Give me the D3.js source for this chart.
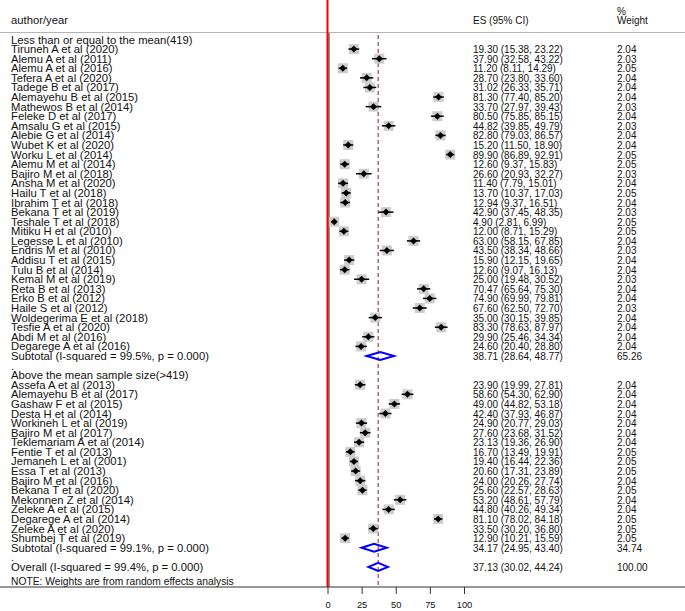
<!DOCTYPE html>
<html>
<head>
<meta charset="utf-8">
<script src="https://cdn.jsdelivr.net/npm/d3@7"></script>
<style>
  body { margin: 0; background: #fff; }
  text { font-family: "Liberation Sans", Arial, sans-serif; fill: #111; }
</style>
</head>
<body>
<svg id="forest" width="685" height="611"></svg>
<script>
// studies, sample size <= mean (419)
var studies1 = ["Tiruneh A et al (2020)", "Alemu A et al (2011)", "Alemu A et al (2016)", "Tefera A et al (2020)",
  "Tadege B et al (2017)", "Alemayehu B et al (2015)", "Mathewos B et al (2014)", "Feleke D et al (2017)",
  "Amsalu G et al (2015)", "Alebie G et al (2014)", "Wubet K et al (2020)", "Worku L et al (2014)",
  "Alemu M et al (2014)", "Bajiro M et al (2018)", "Ansha M et al (2020)", "Hailu T et al (2018)",
  "Ibrahim T et al (2018)", "Bekana T et al (2019)", "Teshale T et al (2018)", "Mitiku H et al (2010)",
  "Legesse L et al (2010)", "Endris M et al (2010)", "Addisu T et al (2015)", "Tulu B et al (2014)",
  "Kemal M et al (2019)", "Reta B et al (2013)", "Erko B et al (2012)", "Haile S et al (2012)",
  "Woldegerima E et al (2018)", "Tesfie A et al (2020)", "Abdi M et al (2016)", "Degarege A et al (2016)"];
var es1 = [19.30, 37.90, 11.20, 28.70, 31.02, 81.30, 33.70, 80.50, 44.82, 82.80, 15.20, 89.90,
  12.60, 26.60, 11.40, 13.70, 12.94, 42.90, 4.90, 12.00, 63.00, 43.50, 15.90, 12.60,
  25.00, 70.47, 74.90, 67.60, 35.00, 83.30, 29.90, 24.60];
var lo1 = [15.38, 32.58, 8.11, 23.80, 26.33, 77.40, 27.97, 75.85, 39.85, 79.03, 11.50, 86.89,
  9.37, 20.93, 7.79, 10.37, 9.37, 37.45, 2.81, 8.71, 58.15, 38.34, 12.15, 9.07,
  19.48, 65.64, 69.99, 62.50, 30.15, 78.63, 25.46, 20.40];
var hi1 = [23.22, 43.22, 14.29, 33.60, 35.71, 85.20, 39.43, 85.15, 49.79, 86.57, 18.90, 92.91,
  15.83, 32.27, 15.01, 17.03, 16.51, 48.35, 6.99, 15.29, 67.85, 48.66, 19.65, 16.13,
  30.52, 75.30, 79.81, 72.70, 39.85, 87.97, 34.34, 28.80];
var wt1 = [2.04, 2.03, 2.05, 2.04, 2.04, 2.04, 2.03, 2.04, 2.03, 2.04, 2.04, 2.05,
  2.05, 2.03, 2.04, 2.05, 2.04, 2.03, 2.05, 2.05, 2.04, 2.03, 2.04, 2.04,
  2.03, 2.04, 2.04, 2.03, 2.04, 2.04, 2.04, 2.04];

// studies, sample size > mean
var studies2 = ["Assefa  A et al (2013)", "Alemayehu B et al (2017)", "Gashaw F et al (2015)", "Desta H et al (2014)",
  "Workineh L et al (2019)", "Bajiro M et al (2017)", "Teklemariam A et al (2014)", "Fentie T et al (2013)",
  "Jemaneh L et al (2001)", "Essa T et al (2013)", "Bajiro M et al (2016)", "Bekana T et al (2020)",
  "Mekonnen Z et al  (2014)", "Zeleke A et al (2015)", "Degarege A et al (2014)", "Zeleke A et al (2020)",
  "Shumbej T et al (2019)"];
var es2 = [23.90, 58.60, 49.00, 42.40, 24.90, 27.60, 23.13, 16.70, 19.40, 20.60, 24.00, 25.60,
  53.20, 44.80, 81.10, 33.50, 12.90];
var lo2 = [19.99, 54.30, 44.82, 37.93, 20.77, 23.68, 19.36, 13.49, 16.44, 17.31, 20.26, 22.57,
  48.61, 40.26, 78.02, 30.20, 10.21];
var hi2 = [27.81, 62.90, 53.18, 46.87, 29.03, 31.52, 26.90, 19.91, 22.36, 23.89, 27.74, 28.63,
  57.79, 49.34, 84.18, 36.80, 15.59];
var wt2 = [2.04, 2.04, 2.04, 2.04, 2.04, 2.04, 2.04, 2.05, 2.05, 2.05, 2.04, 2.05,
  2.04, 2.04, 2.05, 2.05, 2.05];

// pooled estimates: subtotal 1, subtotal 2, overall
var pooledLabels = ["Subtotal  (I-squared = 99.5%, p = 0.000)", "Subtotal  (I-squared = 99.1%, p = 0.000)",
  "Overall  (I-squared = 99.4%, p = 0.000)"];
var pooledES = [38.71, 34.17, 37.13];
var pooledLo = [28.64, 24.95, 30.02];
var pooledHi = [48.77, 43.40, 44.24];
var pooledWt = [65.26, 34.74, 100.00];

var groupTitles = ["Less than or equal to the mean(419)", "Above the mean sample size(>419)"];
var xTicks = [0, 25, 50, 75, 100];

var svg = d3.select("#forest");
var width = 685, height = 611;

var x = d3.scaleLinear().domain([0, 100]).range([327.5, 464]);
var rowY = function(i) { return 39.5 + i * 9.59; };
var axisY = 587;
var fmt = d3.format(".2f");

// pick a font size so a sample string gets the width it has in the picture
function fitSize(str, target) {
  var t = svg.append("text").attr("font-size", 10).text(str);
  var w = t.node().getComputedTextLength();
  t.remove();
  return w > 0 ? 10 * target / w : 10;
}
var labSize = fitSize("Less than or equal to the mean(419)", 182);
var numSize = fitSize("19.30 (15.38, 23.22)", 90);
var noteSize = fitSize("NOTE: Weights are from random effects analysis", 223);
var tickSize = fitSize("100", 15.5);

// build the row list
var rows = [];
rows.push({type: "title", label: groupTitles[0]});
studies1.forEach(function(s, i) {
  rows.push({type: "study", label: s, es: es1[i], lo: lo1[i], hi: hi1[i], w: wt1[i]});
});
rows.push({type: "pooled", label: pooledLabels[0], es: pooledES[0], lo: pooledLo[0], hi: pooledHi[0], w: pooledWt[0]});
rows.push({type: "dot", label: "."});
rows.push({type: "title", label: groupTitles[1]});
studies2.forEach(function(s, i) {
  rows.push({type: "study", label: s, es: es2[i], lo: lo2[i], hi: hi2[i], w: wt2[i]});
});
rows.push({type: "pooled", label: pooledLabels[1], es: pooledES[1], lo: pooledLo[1], hi: pooledHi[1], w: pooledWt[1]});
rows.push({type: "dot", label: "."});
rows.push({type: "pooled", label: pooledLabels[2], es: pooledES[2], lo: pooledLo[2], hi: pooledHi[2], w: pooledWt[2]});
rows.forEach(function(r, i) { r.y = rowY(i); });

// header
svg.append("text").attr("x", 11).attr("y", 24).attr("font-size", labSize).text("author/year");
svg.append("text").attr("x", 473).attr("y", 24).attr("font-size", numSize).text("ES (95% CI)");
svg.append("text").attr("x", 617).attr("y", 14.5).attr("font-size", numSize).text("%");
svg.append("text").attr("x", 617).attr("y", 24).attr("font-size", numSize).text("Weight");

svg.append("line")
  .attr("x1", 0).attr("x2", width).attr("y1", 32.5).attr("y2", 32.5)
  .attr("stroke", "#b4b4b4").attr("stroke-width", 1);

// null line
svg.append("line")
  .attr("x1", x(0) + 1.5).attr("x2", x(0) + 1.5).attr("y1", 33).attr("y2", axisY)
  .attr("stroke", "#222").attr("stroke-width", 1);
svg.append("line")
  .attr("x1", x(0)).attr("x2", x(0)).attr("y1", 0).attr("y2", axisY)
  .attr("stroke", "#ff0000").attr("stroke-width", 2);

// overall effect line
svg.append("line")
  .attr("x1", x(pooledES[2])).attr("x2", x(pooledES[2])).attr("y1", 35).attr("y2", axisY)
  .attr("stroke", "#b03a48").attr("stroke-width", 1.2)
  .attr("stroke-dasharray", "4,3");

// labels
svg.append("g").selectAll("text")
  .data(rows)
  .enter().append("text")
  .attr("x", 11)
  .attr("y", function(d) { return d.y + 4; })
  .attr("font-size", labSize)
  .text(function(d) { return d.label; });

var est = rows.filter(function(d) { return d.es !== undefined; });

svg.append("g").selectAll("text")
  .data(est)
  .enter().append("text")
  .attr("x", 473)
  .attr("y", function(d) { return d.y + 4; })
  .attr("font-size", numSize)
  .text(function(d) { return fmt(d.es) + " (" + fmt(d.lo) + ", " + fmt(d.hi) + ")"; });

svg.append("g").selectAll("text")
  .data(est)
  .enter().append("text")
  .attr("x", 617)
  .attr("y", function(d) { return d.y + 4; })
  .attr("font-size", numSize)
  .text(function(d) { return fmt(d.w); });

// study markers
var studyRows = rows.filter(function(d) { return d.type === "study"; });
var marks = svg.append("g").selectAll("g")
  .data(studyRows)
  .enter().append("g");

marks.append("rect")
  .attr("x", function(d) { return x(d.es) - 5; })
  .attr("y", function(d) { return d.y - 5; })
  .attr("width", 10).attr("height", 10)
  .attr("fill", "#cccccc");

marks.append("line")
  .attr("x1", function(d) { return x(d.lo); })
  .attr("x2", function(d) { return x(d.hi); })
  .attr("y1", function(d) { return d.y; })
  .attr("y2", function(d) { return d.y; })
  .attr("stroke", "#000").attr("stroke-width", 1.5);

marks.append("path")
  .attr("d", function(d) {
    var cx = x(d.es), cy = d.y;
    return "M" + (cx - 3.5) + "," + cy + "L" + cx + "," + (cy - 3.5) +
      "L" + (cx + 3.5) + "," + cy + "L" + cx + "," + (cy + 3.5) + "Z";
  })
  .attr("fill", "#000");

// pooled diamonds
var pooledRows = rows.filter(function(d) { return d.type === "pooled"; });
svg.append("g").selectAll("path")
  .data(pooledRows)
  .enter().append("path")
  .attr("d", function(d) {
    var cy = d.y;
    return "M" + x(d.lo) + "," + cy + "L" + x(d.es) + "," + (cy - 4) +
      "L" + x(d.hi) + "," + cy + "L" + x(d.es) + "," + (cy + 4) + "Z";
  })
  .attr("fill", "none")
  .attr("stroke", "#0000ff").attr("stroke-width", 2);

// note
svg.append("text").attr("x", 11).attr("y", 585).attr("font-size", noteSize)
  .text("NOTE: Weights are from random effects analysis");

// axis
svg.append("line")
  .attr("x1", 0).attr("x2", width).attr("y1", axisY).attr("y2", axisY)
  .attr("stroke", "#333").attr("stroke-width", 1);

var axis = d3.axisBottom(x).tickValues(xTicks).tickSize(7).tickPadding(7).tickFormat(d3.format("d"));
var axisG = svg.append("g")
  .attr("transform", "translate(0," + axisY + ")")
  .call(axis);
axisG.select(".domain").remove();
axisG.selectAll("line").attr("stroke", "#333");
axisG.selectAll("text").attr("font-size", tickSize).attr("font-family", "Liberation Sans, Arial, sans-serif").attr("fill", "#111");
</script>
</body>
</html>
